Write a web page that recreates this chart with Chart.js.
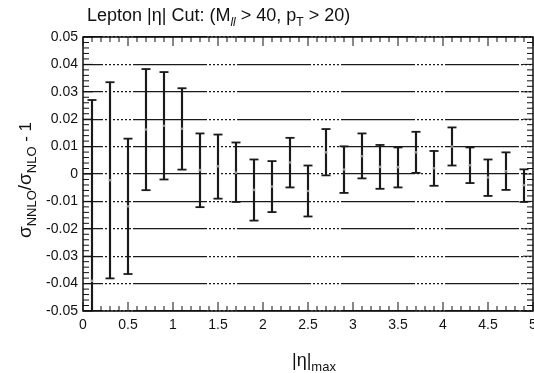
<!DOCTYPE html>
<html><head><meta charset="utf-8">
<script src="https://cdn.jsdelivr.net/npm/chart.js@4.4.0/dist/chart.umd.min.js"></script>
<style>html,body{margin:0;padding:0;background:#fff;}#wrap{width:534px;height:373px;}</style>
</head><body><div id="wrap"><canvas id="c" width="534" height="373"></canvas></div>
<script>
// |eta|_max cut values
const etaMax = [0.1, 0.3, 0.5, 0.7, 0.9, 1.1, 1.3, 1.5, 1.7, 1.9, 2.1, 2.3, 2.5, 2.7, 2.9, 3.1, 3.3, 3.5, 3.7, 3.9, 4.1, 4.3, 4.5, 4.7, 4.9];
// sigma_NNLO/sigma_NLO - 1 (central values)
const ratioCenter = [-0.039, -0.0023, -0.0118, 0.0162, 0.0176, 0.0165, 0.0014, 0.0028, 0.0005, -0.0058, -0.0046, 0.0042, -0.0062, 0.0079, 0.0016, 0.0065, 0.0026, 0.0025, 0.0079, 0.0021, 0.0100, 0.0032, -0.0013, 0.0010, -0.0041];
// upper ends of error bars
const ratioUpper = [0.027, 0.0335, 0.0129, 0.0383, 0.0372, 0.0313, 0.0148, 0.0144, 0.0115, 0.0053, 0.0047, 0.0132, 0.0031, 0.0164, 0.0101, 0.0148, 0.0106, 0.0097, 0.0154, 0.0084, 0.0170, 0.0097, 0.0053, 0.0079, 0.0017];
// lower ends of error bars
const ratioLower = [-0.105, -0.0381, -0.0365, -0.0059, -0.0020, 0.0016, -0.0121, -0.0090, -0.0102, -0.0170, -0.0139, -0.0049, -0.0155, -0.0005, -0.0069, -0.0016, -0.0054, -0.0049, 0.0004, -0.0043, 0.0031, -0.0033, -0.0080, -0.0058, -0.0102];
// axis settings
const xMin = 0, xMax = 5, xMajor = 0.5, xMinor = 0.1;
const yMin = -0.05, yMax = 0.05, yMajor = 0.01, yMinor = 0.002;

const FONT = '"Liberation Sans", Arial, Helvetica, sans-serif';
Chart.defaults.font.family = FONT;
Chart.defaults.color = '#000';

function drawRich(ctx, parts, x, y) {
  let cx = x;
  for (const p of parts) {
    ctx.font = (p.italic ? 'italic ' : '') + p.size + 'px ' + FONT;
    ctx.fillText(p.t, cx, y + (p.dy || 0));
    cx += ctx.measureText(p.t).width;
  }
  return cx - x;
}
function richWidth(ctx, parts) {
  let w = 0;
  for (const p of parts) { ctx.font = (p.italic ? 'italic ' : '') + p.size + 'px ' + FONT; w += ctx.measureText(p.t).width; }
  return w;
}
function fmt(v) { return String(parseFloat(Number(v).toFixed(3))); }

const rootFrame = {
  id: 'rootFrame',
  afterDatasetsDraw(chart) {
    const {ctx, chartArea: a, scales: {x, y}} = chart;
    ctx.save();
    ctx.strokeStyle = '#111';
    ctx.lineWidth = 1;
    const ny = Math.round((yMax - yMin) / yMinor);
    const perY = Math.round(yMajor / yMinor);
    for (let k = 0; k <= ny; k++) {
      const py = y.getPixelForValue(yMin + k * yMinor);
      const len = (k % perY === 0) ? 10 : 6;
      ctx.beginPath();
      ctx.moveTo(a.left, py); ctx.lineTo(a.left + len, py);
      ctx.moveTo(a.right, py); ctx.lineTo(a.right - len, py);
      ctx.stroke();
    }
    const nx = Math.round((xMax - xMin) / xMinor);
    const perX = Math.round(xMajor / xMinor);
    for (let k = 0; k <= nx; k++) {
      const px = x.getPixelForValue(xMin + k * xMinor);
      const len = (k % perX === 0) ? 9 : 5;
      ctx.beginPath();
      ctx.moveTo(px, a.bottom); ctx.lineTo(px, a.bottom - len);
      ctx.moveTo(px, a.top); ctx.lineTo(px, a.top + len);
      ctx.stroke();
    }
    ctx.lineWidth = 1.5;
    ctx.strokeRect(a.left, a.top, a.right - a.left, a.bottom - a.top);
    ctx.restore();
  },
  afterDraw(chart) {
    const {ctx} = chart;
    ctx.save();
    ctx.fillStyle = '#111';
    ctx.textBaseline = 'alphabetic';
    // title
    drawRich(ctx, [
      {t: 'Lepton |\u03b7| Cut: (M', size: 18},
      {t: 'll', size: 12, dy: 5, italic: true},
      {t: ' > 40, p', size: 18},
      {t: 'T', size: 12, dy: 5},
      {t: ' > 20)', size: 18}
    ], 87, 21);
    // x title
    drawRich(ctx, [
      {t: '|\u03b7|', size: 18},
      {t: 'max', size: 13, dy: 5}
    ], 292, 366);
    // y title (rotated)
    const yParts = [
      {t: '\u03c3', size: 19},
      {t: 'NNLO', size: 13, dy: 5},
      {t: '/\u03c3', size: 19},
      {t: 'NLO', size: 13, dy: 5},
      {t: ' - 1', size: 17}
    ];
    const w = richWidth(ctx, yParts);
    ctx.translate(31, 180);
    ctx.rotate(-Math.PI / 2);
    drawRich(ctx, yParts, -w / 2, 0);
    ctx.restore();
  }
};

const gridDots = [74];
for (let i = 0; i < 15; i++) gridDots.push(2);

new Chart(document.getElementById('c'), {
  type: 'scatter',
  data: {
    datasets: [
      {
        label: 'central',
        data: etaMax.map((v, i) => ({x: v, y: ratioCenter[i]})),
        pointRadius: 1.3,
        pointBackgroundColor: '#999',
        pointBorderWidth: 0,
        pointStyle: 'circle'
      },
      {
        label: 'upper cap',
        data: etaMax.map((v, i) => ({x: v, y: ratioUpper[i]})),
        pointStyle: 'line',
        pointRadius: 4.5,
        pointBorderWidth: 1.8,
        pointBorderColor: '#1a1a1a',
        borderColor: '#1a1a1a'
      },
      {
        label: 'lower cap',
        data: etaMax.map((v, i) => ({x: v, y: ratioLower[i]})),
        pointStyle: 'line',
        pointRadius: 4.5,
        pointBorderWidth: 1.8,
        pointBorderColor: '#1a1a1a',
        borderColor: '#1a1a1a'
      },
      {
        type: 'bar',
        label: 'error',
        data: etaMax.map((v, i) => ({x: v, y: [ratioLower[i], ratioUpper[i]]})),
        backgroundColor: '#1a1a1a',
        borderWidth: 0,
        barThickness: 1.5,
        clip: 0
      }
    ]
  },
  options: {
    responsive: false,
    animation: false,
    events: [],
    layout: {autoPadding: false, padding: {top: 37, right: 1, left: 0, bottom: 0}},
    plugins: {legend: {display: false}, tooltip: {enabled: false}, title: {display: false}},
    scales: {
      x: {
        type: 'linear',
        min: xMin, max: xMax,
        offset: false,
        grid: {display: false, offset: false, drawTicks: false},
        border: {display: false},
        ticks: {stepSize: xMajor, padding: 6, font: {size: 14}, color: '#111', maxRotation: 0, autoSkip: false, callback: fmt},
        afterFit(s) { s.height = 62; s.paddingLeft = 0; s.paddingRight = 0; }
      },
      y: {
        type: 'linear',
        min: yMin, max: yMax,
        grid: {color: '#1a1a1a', lineWidth: 1.2, drawTicks: false},
        border: {display: false, dash: gridDots, dashOffset: 54},
        ticks: {stepSize: yMajor, padding: 5, font: {size: 14}, color: '#111', autoSkip: false, callback: fmt},
        afterFit(s) { s.width = 83; s.paddingTop = 0; s.paddingBottom = 0; }
      }
    }
  },
  plugins: [rootFrame]
});
</script>
</body></html>
